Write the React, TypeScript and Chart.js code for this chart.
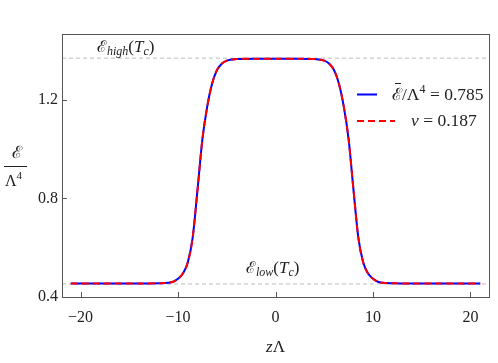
import React, { useEffect, useRef } from "react";
import { Chart, registerables } from "chart.js";

Chart.register(...registerables);

const zValues = [-21, -14, -12, -11, -10.5, -10, -9.5, -9, -8.5, -8, -7.5, -7, -6.5, -6, -5.5, -5, -4, -2, 0,
  2, 4, 5, 5.5, 6, 6.5, 7, 7.5, 8, 8.5, 9, 9.5, 10, 10.5, 11, 12, 14, 21];
const energyValues = [0.455, 0.455, 0.456, 0.458, 0.462, 0.474, 0.495, 0.540, 0.640, 0.835, 1.040, 1.174, 1.267, 1.322, 1.348, 1.360, 1.366, 1.368, 1.368,
  1.368, 1.366, 1.360, 1.348, 1.322, 1.267, 1.174, 1.040, 0.835, 0.640, 0.540, 0.495, 0.474, 0.462, 0.458, 0.456, 0.455, 0.455];
const xTicks = [-20, -10, 0, 10, 20];
const yTicks = [0.4, 0.8, 1.2];
const xRange = [-21.9, 21.9];
const yRange = [0.4, 1.468];
const eHigh = 1.370;
const eLow = 0.453;
const legendLabels = ["0.785", "0.187"];

const SERIF = '"Liberation Serif", "DejaVu Serif", serif';
const SCRIPT = '"DejaVu Serif", serif';

type Run = { t: string; f: string; dy?: number };
function drawRuns(ctx: CanvasRenderingContext2D, x: number, y: number, runs: Run[]) {
  let cx = x;
  for (const r of runs) {
    ctx.font = r.f;
    ctx.fillText(r.t, cx, y + (r.dy || 0));
    cx += ctx.measureText(r.t).width;
  }
  return cx;
}

const decor = {
  id: "decor",
  afterDraw(chart: any) {
    const ctx = chart.ctx as CanvasRenderingContext2D;
    const a = chart.chartArea;
    const xs = chart.scales.x;
    const ys = chart.scales.y;
    ctx.save();
    ctx.strokeStyle = "#555";
    ctx.lineWidth = 1;
    ctx.strokeRect(Math.round(a.left) + 0.5, Math.round(a.top) + 0.5, Math.round(a.right - a.left), Math.round(a.bottom - a.top));
    ctx.beginPath();
    for (const v of xTicks) {
      const px = Math.round(xs.getPixelForValue(v)) + 0.5;
      ctx.moveTo(px, a.bottom);
      ctx.lineTo(px, a.bottom - 5);
    }
    for (const v of yTicks) {
      const py = Math.round(ys.getPixelForValue(v)) + 0.5;
      ctx.moveTo(a.left, py);
      ctx.lineTo(a.left + 5, py);
    }
    ctx.stroke();

    ctx.fillStyle = "#222";
    ctx.textBaseline = "alphabetic";
    ctx.textAlign = "left";
    const it = (s: number) => `italic ${s}px ${SERIF}`;
    const rm = (s: number) => `${s}px ${SERIF}`;
    const sc = (s: number) => `${s}px ${SCRIPT}`;

    drawRuns(ctx, 97, 52, [
      { t: "ℰ", f: sc(16) },
      { t: "high", f: it(12), dy: 3 },
      { t: "(", f: rm(17) },
      { t: "T", f: it(17) },
      { t: "c", f: it(12), dy: 3 },
      { t: ")", f: rm(17) },
    ]);
    drawRuns(ctx, 246, 273, [
      { t: "ℰ", f: sc(16) },
      { t: "low", f: it(12), dy: 3 },
      { t: "(", f: rm(17) },
      { t: "T", f: it(17) },
      { t: "c", f: it(12), dy: 3 },
      { t: ")", f: rm(17) },
    ]);

    ctx.lineWidth = 2;
    ctx.strokeStyle = "#0000ff";
    ctx.setLineDash([]);
    ctx.beginPath();
    ctx.moveTo(357, 94.5);
    ctx.lineTo(377, 94.5);
    ctx.stroke();
    ctx.strokeStyle = "#ff0000";
    ctx.setLineDash([7, 4]);
    ctx.beginPath();
    ctx.moveTo(357, 121);
    ctx.lineTo(395, 121);
    ctx.stroke();
    ctx.setLineDash([]);

    const sx = 392;
    const endE = drawRuns(ctx, sx, 100, [{ t: "ℰ", f: sc(17) }]);
    ctx.lineWidth = 1;
    ctx.strokeStyle = "#222";
    ctx.beginPath();
    ctx.moveTo(sx + 3, 83.5);
    ctx.lineTo(endE - 1, 83.5);
    ctx.stroke();
    drawRuns(ctx, endE, 100, [
      { t: "/Λ", f: rm(17.5) },
      { t: "4", f: rm(12), dy: -7 },
      { t: " = " + legendLabels[0], f: rm(17.5) },
    ]);
    drawRuns(ctx, 411, 126, [
      { t: "v", f: it(17.5) },
      { t: " = " + legendLabels[1], f: rm(17.5) },
    ]);

    ctx.textAlign = "center";
    ctx.font = sc(17);
    ctx.fillText("ℰ", 17, 158);
    ctx.lineWidth = 1;
    ctx.beginPath();
    ctx.moveTo(4, 166.5);
    ctx.lineTo(27, 166.5);
    ctx.stroke();
    ctx.textAlign = "left";
    drawRuns(ctx, 5, 186, [
      { t: "Λ", f: rm(16) },
      { t: "4", f: rm(11), dy: -7 },
    ]);

    ctx.font = it(17);
    const w1 = ctx.measureText("z").width;
    ctx.font = rm(17);
    const tw = w1 + ctx.measureText("Λ").width;
    const cxp = xs.getPixelForValue(0);
    drawRuns(ctx, cxp - tw / 2, 352, [
      { t: "z", f: it(17) },
      { t: "Λ", f: rm(17) },
    ]);
    ctx.restore();
  },
};

export default function App() {
  const ref = useRef<HTMLCanvasElement | null>(null);
  useEffect(() => {
    document.body.style.margin = "0";
    const canvas = ref.current!;
    const pts = zValues.map((z, i) => ({ x: z, y: energyValues[i] }));
    const chart = new Chart(canvas, {
      type: "line",
      data: {
        datasets: [
          {
            data: pts,
            borderColor: "#ff0000",
            borderWidth: 2,
            borderDash: [7, 4],
            pointRadius: 0,
            cubicInterpolationMode: "monotone",
            order: 0,
          },
          {
            data: pts,
            borderColor: "#0000ff",
            borderWidth: 2,
            pointRadius: 0,
            cubicInterpolationMode: "monotone",
            order: 1,
          },
          {
            data: [{ x: xRange[0], y: eHigh }, { x: xRange[1], y: eHigh }],
            borderColor: "#bbbbbb",
            borderWidth: 1,
            borderDash: [4, 3],
            pointRadius: 0,
            order: 2,
          },
          {
            data: [{ x: xRange[0], y: eLow }, { x: xRange[1], y: eLow }],
            borderColor: "#bbbbbb",
            borderWidth: 1,
            borderDash: [4, 3],
            pointRadius: 0,
            order: 3,
          },
        ],
      },
      options: {
        animation: false,
        responsive: false,
        devicePixelRatio: 1,
        layout: { padding: { top: 34, right: 9, left: 0, bottom: 0 } },
        plugins: { legend: { display: false }, tooltip: { enabled: false } },
        scales: {
          x: {
            type: "linear",
            min: xRange[0],
            max: xRange[1],
            grid: { display: false, drawTicks: false },
            border: { display: false },
            afterBuildTicks: (s: any) => { s.ticks = xTicks.map((v) => ({ value: v })); },
            afterFit: (s: any) => { s.height = 66; },
            ticks: {
              padding: 11,
              color: "#222",
              font: { family: SERIF, size: 16 },
              callback: (v: any) => String(v).replace("-", "−"),
            },
          },
          y: {
            type: "linear",
            min: yRange[0],
            max: yRange[1],
            grid: { display: false, drawTicks: false },
            border: { display: false },
            afterBuildTicks: (s: any) => { s.ticks = yTicks.map((v) => ({ value: v })); },
            afterFit: (s: any) => { s.width = 62; },
            ticks: {
              padding: 4,
              color: "#222",
              font: { family: SERIF, size: 16 },
              callback: (v: any) => Number(v).toFixed(1),
            },
          },
        },
      },
      plugins: [decor],
    } as any);
    return () => chart.destroy();
  }, []);
  return (
    <div style={{ width: 498, height: 363 }}>
      <canvas ref={ref} width={498} height={363} style={{ display: "block" }} />
    </div>
  );
}
